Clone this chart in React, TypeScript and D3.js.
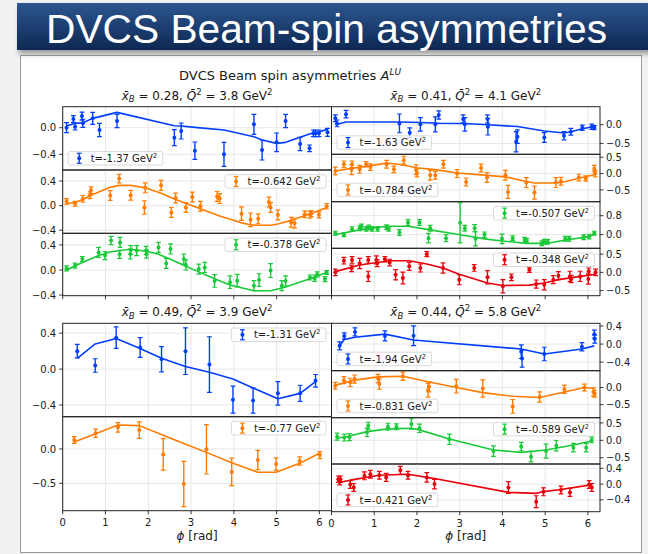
import React, { useEffect, useRef } from 'react';
import * as d3 from 'd3';

const W = 648;
const H = 554;
const FONT = "'DejaVu Sans', 'Liberation Sans', sans-serif";
const INK = '#1a1a1a';

const BLUE = '#023eff';
const ORANGE = '#ff7c00';
const GREEN = '#1ac938';
const RED = '#e8000b';

const bannerTitle = 'DVCS Beam-spin asymmetries';
const chartTitle = 'DVCS Beam spin asymmetries ';
const xBins = ['0.28', '0.41', '0.49', '0.44'];
const q2Bins = ['3.8', '4.1', '3.9', '5.8'];
const xTicks = [0, 1, 2, 3, 4, 5, 6];

// ---- top-left bin (xB=0.28) : [phi, A, err]
const tl1Pts = [[0.09,0.0,0.075],[0.25,0.13,0.05],[0.29,0.015,0.05],[0.45,0.175,0.06],[0.47,0.065,0.06],[0.70,0.14,0.09],[0.86,-0.035,0.1],[1.27,0.10,0.1],[2.61,-0.15,0.12],[2.77,-0.05,0.12],[3.09,-0.345,0.13],[3.77,-0.40,0.18],[4.47,0.05,0.15],[4.66,-0.335,0.15],[5.00,-0.22,0.14],[5.21,0.10,0.10],[5.55,-0.245,0.10],[5.77,-0.31,0.05],[5.86,-0.085,0.05],[5.91,-0.085,0.05],[5.99,-0.085,0.05],[6.19,-0.07,0.06]];
const tl1Fit = [[0.09,0.025],[0.29,0.065],[0.47,0.075],[0.70,0.14],[1.27,0.23],[2.61,0.03],[2.77,0.025],[3.09,0.005],[3.77,-0.035],[4.47,-0.135],[4.66,-0.185],[5.00,-0.235],[5.21,-0.22],[5.55,-0.145],[5.77,-0.095],[5.99,-0.06],[6.19,-0.025]];
const tl2Pts = [[0.09,0.07,0.045],[0.29,0.03,0.04],[0.47,0.11,0.055],[0.64,0.17,0.055],[0.66,0.25,0.055],[1.11,0.165,0.08],[1.32,0.44,0.07],[1.59,0.17,0.08],[1.91,-0.03,0.11],[1.93,0.29,0.08],[2.30,0.33,0.08],[2.54,-0.11,0.08],[2.64,0.125,0.08],[2.88,-0.03,0.08],[3.03,0.14,0.08],[3.22,-0.01,0.08],[3.61,0.15,0.08],[3.67,0.115,0.08],[4.18,-0.13,0.11],[4.39,-0.23,0.11],[4.57,-0.215,0.08],[4.82,0.06,0.08],[4.86,-0.03,0.08],[5.03,-0.15,0.08],[5.34,-0.27,0.08],[5.42,-0.285,0.08],[5.66,-0.14,0.055],[5.78,-0.15,0.055],[5.81,-0.13,0.05],[5.99,-0.15,0.05],[6.17,-0.01,0.045]];
const tl2Fit = [[0.09,0.03],[0.29,0.05],[0.47,0.1],[0.66,0.17],[1.11,0.3],[1.32,0.33],[1.59,0.33],[1.93,0.29],[2.30,0.2],[2.64,0.1],[3.03,0.0],[3.22,-0.05],[3.67,-0.17],[4.18,-0.28],[4.39,-0.31],[4.57,-0.32],[4.86,-0.32],[5.03,-0.3],[5.34,-0.24],[5.66,-0.16],[5.99,-0.08],[6.17,-0.03]];
const tl3Pts = [[0.09,0.025,0.04],[0.29,0.07,0.04],[0.46,0.175,0.04],[0.84,0.28,0.08],[0.99,0.23,0.065],[1.13,0.47,0.065],[1.33,0.25,0.065],[1.34,0.44,0.08],[1.58,0.255,0.08],[1.59,0.32,0.07],[1.73,0.31,0.08],[1.95,0.31,0.065],[1.96,0.255,0.065],[2.24,0.36,0.08],[2.42,0.105,0.08],[2.52,0.335,0.08],[2.83,0.175,0.08],[2.88,0.08,0.08],[3.18,0.015,0.08],[3.32,0.04,0.08],[3.55,-0.175,0.1],[3.91,-0.195,0.1],[4.08,-0.17,0.1],[4.47,-0.25,0.08],[4.59,-0.16,0.1],[4.86,-0.01,0.11],[5.12,-0.25,0.08],[5.21,-0.175,0.08],[5.78,-0.12,0.04],[5.89,-0.13,0.05],[5.95,-0.07,0.04],[6.13,-0.145,0.04],[6.17,-0.04,0.03]];
const tl3Fit = [[0.09,0.0],[0.46,0.12],[0.84,0.23],[1.13,0.29],[1.58,0.33],[1.95,0.3],[2.24,0.25],[2.52,0.17],[2.88,0.06],[3.18,-0.03],[3.55,-0.14],[3.91,-0.24],[4.47,-0.33],[4.86,-0.33],[5.21,-0.27],[5.78,-0.14],[6.17,-0.04]];

// ---- top-right bin (xB=0.41)
const tr1Pts = [[0.09,0.17,0.09],[0.13,0.035,0.09],[0.34,0.28,0.1],[1.59,0.035,0.25],[1.83,-0.215,0.13],[2.08,0.01,0.18],[2.43,0.01,0.2],[2.51,0.26,0.11],[3.08,0.15,0.11],[3.12,0.01,0.18],[3.65,0.15,0.11],[3.66,-0.055,0.22],[4.32,-0.455,0.27],[4.35,-0.32,0.18],[4.98,-0.34,0.13],[5.44,-0.295,0.11],[5.60,-0.19,0.09],[5.87,-0.08,0.07],[6.09,-0.055,0.07],[6.15,-0.08,0.055]];
const tr1Fit = [[0.09,0.0],[0.34,0.07],[1.59,0.07],[2.08,0.06],[2.51,0.04],[3.12,0.03],[3.66,0.0],[4.35,-0.05],[4.98,-0.17],[5.44,-0.22],[5.60,-0.19],[5.87,-0.11],[6.15,-0.05]];
const tr2Pts = [[0.09,0.08,0.12],[0.29,0.285,0.1],[0.47,0.12,0.15],[0.48,0.285,0.1],[0.66,0.13,0.12],[0.81,0.285,0.08],[0.91,0.2,0.1],[1.29,0.285,0.12],[1.46,0.13,0.1],[1.69,0.41,0.12],[1.98,0.12,0.15],[2.00,0.02,0.12],[2.31,-0.05,0.15],[2.43,-0.05,0.12],[2.62,0.285,0.12],[2.94,0.0,0.12],[3.15,-0.255,0.12],[3.50,0.17,0.12],[3.64,-0.12,0.15],[4.07,-0.05,0.15],[4.13,-0.56,0.2],[4.56,-0.275,0.15],[4.75,-0.58,0.2],[5.25,-0.275,0.15],[5.37,-0.235,0.12],[5.79,-0.12,0.1],[5.95,-0.15,0.08],[6.15,0.15,0.1],[6.17,0.0,0.1]];
const tr2Fit = [[0.09,0.08],[0.47,0.16],[0.81,0.22],[1.29,0.32],[1.46,0.3],[1.69,0.26],[1.98,0.18],[2.43,0.12],[2.94,0.02],[3.50,-0.04],[4.07,-0.1],[4.56,-0.24],[4.75,-0.29],[5.25,-0.29],[5.37,-0.27],[5.79,-0.14],[6.17,-0.03]];
const tr3Pts = [[0.09,0.06,0.08],[0.29,-0.01,0.08],[0.48,0.23,0.1],[0.66,0.27,0.1],[0.70,0.34,0.1],[0.81,0.24,0.1],[0.87,0.3,0.1],[0.95,0.24,0.1],[1.08,0.24,0.1],[1.29,0.31,0.1],[1.34,0.24,0.1],[1.59,0.09,0.12],[1.79,0.51,0.12],[2.06,0.51,0.12],[2.27,-0.15,0.2],[2.31,0.27,0.12],[2.68,-0.15,0.15],[3.01,0.5,0.85],[3.12,0.27,0.12],[3.35,0.27,0.15],[3.37,-0.18,0.3],[3.58,-0.01,0.12],[3.99,-0.18,0.2],[4.24,-0.15,0.1],[4.52,-0.22,0.1],[4.57,-0.27,0.1],[4.92,-0.37,0.1],[4.98,-0.3,0.1],[5.06,-0.3,0.1],[5.47,-0.18,0.1],[5.56,-0.18,0.1],[5.90,-0.11,0.1],[6.03,-0.085,0.1],[6.15,0.06,0.08]];
const tr3Fit = [[0.09,0.0],[0.66,0.2],[1.29,0.35],[1.79,0.35],[2.31,0.2],[3.01,-0.01],[3.58,-0.18],[3.99,-0.27],[4.57,-0.37],[5.06,-0.37],[5.47,-0.23],[6.03,-0.085],[6.15,0.03]];
const tr4Pts = [[0.09,0.0,0.09],[0.29,0.32,0.09],[0.47,0.11,0.09],[0.48,0.34,0.09],[0.66,0.245,0.14],[0.86,0.34,0.09],[0.86,-0.11,0.14],[1.05,0.34,0.11],[1.07,0.25,0.09],[1.25,0.36,0.07],[1.36,0.27,0.09],[1.50,-0.065,0.14],[1.67,-0.155,0.16],[1.82,0.165,0.11],[2.08,0.12,0.11],[2.23,0.5,0.07],[2.61,0.12,0.14],[2.99,-0.2,0.14],[3.34,0.12,0.09],[3.65,-0.135,0.18],[4.01,-0.38,0.18],[4.21,-0.135,0.09],[4.63,0.07,0.07],[4.79,-0.32,0.11],[4.98,-0.34,0.14],[5.19,-0.2,0.11],[5.31,-0.09,0.11],[5.58,-0.11,0.14],[5.61,-0.18,0.1],[5.82,-0.11,0.14],[6.01,-0.18,0.14],[6.02,0.03,0.09],[6.18,0.0,0.09]];
const tr4Fit = [[0.09,0.02],[0.66,0.2],[1.36,0.32],[1.82,0.32],[2.23,0.23],[2.61,0.12],[2.99,-0.05],[3.65,-0.29],[4.01,-0.36],[4.63,-0.35],[4.98,-0.29],[5.31,-0.2],[5.82,-0.11],[6.18,-0.05]];

// ---- bottom-left bin (xB=0.49)
const bl1Pts = [[0.34,0.2,0.075],[0.76,0.04,0.075],[1.25,0.35,0.12],[1.81,0.24,0.11],[2.31,0.11,0.14],[2.87,0.2,0.26],[3.43,0.05,0.31],[3.98,-0.34,0.15],[4.45,-0.35,0.14],[5.03,-0.27,0.13],[5.55,-0.27,0.09],[5.91,-0.13,0.07]];
const bl1Fit = [[0.34,0.12],[0.76,0.28],[1.25,0.34],[1.81,0.23],[2.31,0.12],[2.87,0.03],[3.43,-0.035],[3.98,-0.11],[4.45,-0.21],[5.03,-0.33],[5.55,-0.27],[5.91,-0.14]];
const bl2Pts = [[0.27,0.13,0.05],[0.77,0.23,0.06],[1.29,0.315,0.07],[1.79,0.275,0.12],[2.35,-0.08,0.23],[2.83,-0.51,0.33],[3.36,-0.005,0.36],[3.95,-0.335,0.2],[4.56,-0.16,0.14],[4.99,-0.22,0.09],[5.54,-0.175,0.06],[6.01,-0.09,0.05]];
const bl2Fit = [[0.27,0.1],[0.77,0.22],[1.29,0.35],[1.79,0.34],[2.35,0.2],[2.83,0.08],[3.36,-0.05],[3.95,-0.2],[4.56,-0.34],[4.99,-0.34],[5.54,-0.21],[6.01,-0.06]];

// ---- bottom-right bin (xB=0.44)
const br1Pts = [[0.19,-0.04,0.09],[0.30,0.18,0.07],[0.55,0.27,0.09],[1.25,0.18,0.11],[1.92,0.185,0.22],[4.44,-0.17,0.15],[4.46,-0.32,0.19],[4.98,-0.22,0.15],[5.86,-0.06,0.09],[6.15,0.22,0.09],[6.16,0.11,0.09]];
const br1Fit = [[0.19,-0.04],[0.30,0.1],[0.55,0.15],[1.25,0.22],[1.92,0.09],[4.44,-0.11],[4.98,-0.22],[5.86,-0.11],[6.15,-0.04]];
const br2Pts = [[0.09,0.05,0.1],[0.29,0.215,0.1],[0.44,0.15,0.12],[0.54,0.245,0.12],[1.09,0.265,0.12],[1.12,0.1,0.15],[1.67,0.33,0.12],[2.26,-0.08,0.2],[2.28,0.02,0.15],[2.92,0.04,0.2],[3.54,-0.03,0.25],[4.24,-0.55,0.2],[4.87,-0.275,0.15],[5.45,-0.05,0.12],[5.92,0.0,0.1],[6.13,-0.13,0.12],[6.16,-0.18,0.1]];
const br2Fit = [[0.09,0.07],[0.54,0.215],[1.09,0.31],[1.67,0.33],[2.26,0.17],[2.92,0.0],[3.54,-0.15],[4.24,-0.255],[4.87,-0.29],[5.45,-0.13],[5.92,0.0],[6.16,-0.03]];
const br3Pts = [[0.13,0.105,0.1],[0.30,0.08,0.1],[0.42,0.09,0.1],[0.83,0.23,0.12],[0.86,0.42,0.1],[1.32,0.39,0.1],[1.52,0.39,0.08],[1.87,0.47,0.15],[2.06,0.345,0.12],[2.76,0.03,0.15],[3.79,-0.31,0.15],[4.44,-0.18,0.12],[4.67,-0.47,0.15],[5.02,-0.31,0.2],[5.26,-0.155,0.15],[5.66,-0.21,0.12],[5.96,-0.21,0.12],[6.09,0.01,0.08]];
const br3Fit = [[0.13,0.06],[0.42,0.125],[0.83,0.25],[1.32,0.33],[1.87,0.345],[2.06,0.3],[2.76,0.04],[3.79,-0.28],[4.44,-0.345],[5.02,-0.28],[5.66,-0.135],[6.09,-0.02]];
const br4Pts = [[0.16,0.125,0.08],[0.19,0.06,0.08],[0.21,0.125,0.08],[0.44,-0.01,0.1],[0.52,-0.085,0.1],[0.77,0.21,0.1],[0.91,0.25,0.1],[1.12,0.225,0.1],[1.28,0.17,0.1],[1.61,0.35,0.1],[1.79,0.225,0.1],[2.23,0.17,0.12],[2.41,0.0,0.12],[4.14,-0.085,0.15],[4.79,-0.445,0.15],[4.96,-0.195,0.1],[5.37,-0.15,0.1],[5.58,-0.21,0.1],[6.03,-0.01,0.1],[6.09,-0.085,0.1]];
const br4Fit = [[0.16,0.04],[0.44,0.1],[1.12,0.225],[1.79,0.25],[2.41,0.14],[4.14,-0.21],[4.79,-0.235],[4.96,-0.19],[5.37,-0.135],[6.03,-0.025],[6.09,-0.04]];

const tLabels = {
  tl: ['-1.37', '-0.642', '-0.378'],
  tr: ['-1.63', '-0.784', '-0.507', '-0.348'],
  bl: ['-1.31', '-0.77'],
  br: ['-1.94', '-0.831', '-0.589', '-0.421'],
};

type Panel = {
  pts: number[][]; fit: number[][]; color: string; t: string; loc: 'ur' | 'll';
  top: number; bottom: number; dom: [number, number]; step: number;
};
type Group = { bin: number; x0: number; x1: number; side: 'left' | 'right'; xLabels: boolean; panels: Panel[] };

const XL0 = 62.7, XMID = 331.5, XR1 = 600;

const groups: Group[] = [
  { bin: 0, x0: XL0, x1: XMID, side: 'left', xLabels: false, panels: [
    { pts: tl1Pts, fit: tl1Fit, color: BLUE, t: tLabels.tl[0], loc: 'll', top: 106.7, bottom: 170, dom: [-0.635, 0.315], step: 0.4 },
    { pts: tl2Pts, fit: tl2Fit, color: ORANGE, t: tLabels.tl[1], loc: 'ur', top: 170, bottom: 233.3, dom: [-0.45, 0.58], step: 0.4 },
    { pts: tl3Pts, fit: tl3Fit, color: GREEN, t: tLabels.tl[2], loc: 'ur', top: 233.3, bottom: 295.7, dom: [-0.41, 0.585], step: 0.4 },
  ] },
  { bin: 1, x0: XMID, x1: XR1, side: 'right', xLabels: false, panels: [
    { pts: tr1Pts, fit: tr1Fit, color: BLUE, t: tLabels.tr[0], loc: 'll', top: 106.7, bottom: 154.3, dom: [-0.79, 0.48], step: 0.5 },
    { pts: tr2Pts, fit: tr2Fit, color: ORANGE, t: tLabels.tr[1], loc: 'll', top: 154.3, bottom: 201.7, dom: [-0.86, 0.59], step: 0.5 },
    { pts: tr3Pts, fit: tr3Fit, color: GREEN, t: tLabels.tr[2], loc: 'ur', top: 201.7, bottom: 248.3, dom: [-0.58, 1.39], step: 0.8 },
    { pts: tr4Pts, fit: tr4Fit, color: RED, t: tLabels.tr[3], loc: 'ur', top: 248.3, bottom: 295.7, dom: [-0.64, 0.66], step: 0.5 },
  ] },
  { bin: 2, x0: XL0, x1: XMID, side: 'left', xLabels: true, panels: [
    { pts: bl1Pts, fit: bl1Fit, color: BLUE, t: tLabels.bl[0], loc: 'ur', top: 323.3, bottom: 416.7, dom: [-0.53, 0.51], step: 0.4 },
    { pts: bl2Pts, fit: bl2Fit, color: ORANGE, t: tLabels.bl[1], loc: 'ur', top: 416.7, bottom: 510.7, dom: [-0.9, 0.47], step: 0.5 },
  ] },
  { bin: 3, x0: XMID, x1: XR1, side: 'right', xLabels: true, panels: [
    { pts: br1Pts, fit: br1Fit, color: BLUE, t: tLabels.br[0], loc: 'll', top: 323.3, bottom: 370.7, dom: [-0.59, 0.46], step: 0.4 },
    { pts: br2Pts, fit: br2Fit, color: ORANGE, t: tLabels.br[1], loc: 'll', top: 370.7, bottom: 417.7, dom: [-0.88, 0.49], step: 0.5 },
    { pts: br3Pts, fit: br3Fit, color: GREEN, t: tLabels.br[2], loc: 'ur', top: 417.7, bottom: 464, dom: [-0.68, 0.65], step: 0.5 },
    { pts: br4Pts, fit: br4Fit, color: RED, t: tLabels.br[3], loc: 'll', top: 464, bottom: 511.7, dom: [-0.7, 0.51], step: 0.4 },
  ] },
];

function draw(svgEl: SVGSVGElement) {
  const svg = d3.select(svgEl);
  svg.selectAll('*').remove();
  const defs = svg.append('defs');

  // slide background
  svg.append('rect').attr('width', W).attr('height', H).attr('fill', '#f1f1f1');

  const bg = defs.append('linearGradient').attr('id', 'bannerGrad').attr('x1', 0).attr('y1', 0).attr('x2', 0).attr('y2', 1);
  bg.append('stop').attr('offset', '0%').attr('stop-color', '#2c5690');
  bg.append('stop').attr('offset', '100%').attr('stop-color', '#0d2852');
  const blur = defs.append('filter').attr('id', 'shadowBlur').attr('x', '-5%').attr('y', '-30%').attr('width', '110%').attr('height', '160%');
  blur.append('feGaussianBlur').attr('stdDeviation', 2.5);

  // chart sheet
  svg.append('rect').attr('x', 20.5).attr('y', 55.5).attr('width', 621).attr('height', 497)
    .attr('fill', '#ffffff').attr('stroke', '#9a9a9a').attr('stroke-width', 1);

  // banner
  svg.append('rect').attr('x', 19).attr('y', 7).attr('width', 640).attr('height', 47)
    .attr('fill', '#555').attr('opacity', 0.55).attr('filter', 'url(#shadowBlur)');
  svg.append('rect').attr('x', 17).attr('y', 3).attr('width', 640).attr('height', 47).attr('fill', 'url(#bannerGrad)');
  svg.append('text').attr('x', 46).attr('y', 43).attr('fill', '#ffffff')
    .attr('font-family', "'Liberation Sans', Arial, sans-serif").attr('font-size', 41)
    .attr('textLength', 561).attr('lengthAdjust', 'spacingAndGlyphs').text(bannerTitle);

  // suptitle
  const st = svg.append('text').attr('x', 290).attr('y', 80).attr('text-anchor', 'middle')
    .attr('font-family', FONT).attr('font-size', 13).attr('fill', INK);
  st.append('tspan').text(chartTitle);
  st.append('tspan').attr('font-style', 'italic').text('A');
  st.append('tspan').attr('font-style', 'italic').attr('font-size', 9).attr('dy', -5).text('LU');

  const fmt = d3.format('.1f');

  groups.forEach((g, gi) => {
    const x = d3.scaleLinear().domain([0, 2 * Math.PI]).range([g.x0, g.x1]);
    const cx = (g.x0 + g.x1) / 2;
    const gTop = g.panels[0].top;
    const gBottom = g.panels[g.panels.length - 1].bottom;

    // subtitle
    const sub = svg.append('text').attr('x', cx).attr('y', gTop - 7).attr('text-anchor', 'middle')
      .attr('font-family', FONT).attr('font-size', 12).attr('fill', INK);
    sub.append('tspan').attr('font-style', 'italic').text('x\u0304');
    sub.append('tspan').attr('font-style', 'italic').attr('font-size', 8.5).attr('dy', 2.5).text('B');
    sub.append('tspan').attr('dy', -2.5).text(` = ${xBins[g.bin]}, `);
    sub.append('tspan').attr('font-style', 'italic').text('Q\u0304');
    sub.append('tspan').attr('font-size', 8.5).attr('dy', -5).text('2');
    sub.append('tspan').attr('dy', 5).text(` = ${q2Bins[g.bin]} GeV`);
    sub.append('tspan').attr('font-size', 8.5).attr('dy', -5).text('2');

    g.panels.forEach((p, pi) => {
      const y = d3.scaleLinear().domain(p.dom).range([p.bottom, p.top]);
      const clipId = `clip-${gi}-${pi}`;
      defs.append('clipPath').attr('id', clipId).append('rect')
        .attr('x', g.x0).attr('y', p.top).attr('width', g.x1 - g.x0).attr('height', p.bottom - p.top);

      const pg = svg.append('g');
      const kMin = Math.ceil(p.dom[0] / p.step - 1e-9);
      const kMax = Math.floor(p.dom[1] / p.step + 1e-9);
      const yTicks = d3.range(kMin, kMax + 1).map(k => +(k * p.step).toFixed(3) + 0);

      // grid
      xTicks.forEach(v => {
        pg.append('line').attr('x1', x(v)).attr('x2', x(v)).attr('y1', p.top).attr('y2', p.bottom)
          .attr('stroke', '#e2e2e2').attr('stroke-width', 0.8);
      });
      yTicks.forEach(v => {
        pg.append('line').attr('x1', g.x0).attr('x2', g.x1).attr('y1', y(v)).attr('y2', y(v))
          .attr('stroke', '#e2e2e2').attr('stroke-width', 0.8);
      });

      const dg = pg.append('g').attr('clip-path', `url(#${clipId})`);
      const line = d3.line<number[]>().x(d => x(d[0])).y(d => y(d[1]));
      dg.append('path').attr('d', line(p.fit) as string).attr('fill', 'none')
        .attr('stroke', p.color).attr('stroke-width', 1.6).attr('stroke-linejoin', 'round');

      p.pts.forEach(d => {
        const px = x(d[0]);
        const y1 = y(d[1] - d[2]);
        const y2 = y(d[1] + d[2]);
        dg.append('line').attr('x1', px).attr('x2', px).attr('y1', y1).attr('y2', y2)
          .attr('stroke', p.color).attr('stroke-width', 1.4);
        [y1, y2].forEach(yy => {
          dg.append('line').attr('x1', px - 2.4).attr('x2', px + 2.4).attr('y1', yy).attr('y2', yy)
            .attr('stroke', p.color).attr('stroke-width', 1.2);
        });
        dg.append('circle').attr('cx', px).attr('cy', y(d[1])).attr('r', 2).attr('fill', p.color);
      });

      // frame
      pg.append('rect').attr('x', g.x0).attr('y', p.top).attr('width', g.x1 - g.x0).attr('height', p.bottom - p.top)
        .attr('fill', 'none').attr('stroke', '#222').attr('stroke-width', 1);

      // y ticks
      yTicks.forEach(v => {
        const yy = y(v);
        const label = fmt(v).replace('-', '\u2212');
        if (g.side === 'left') {
          pg.append('line').attr('x1', g.x0 - 3.5).attr('x2', g.x0).attr('y1', yy).attr('y2', yy).attr('stroke', '#222').attr('stroke-width', 0.9);
          pg.append('text').attr('x', g.x0 - 6.5).attr('y', yy).attr('dy', '0.36em').attr('text-anchor', 'end')
            .attr('font-family', FONT).attr('font-size', 10).attr('fill', INK).text(label);
        } else {
          pg.append('line').attr('x1', g.x1).attr('x2', g.x1 + 3.5).attr('y1', yy).attr('y2', yy).attr('stroke', '#222').attr('stroke-width', 0.9);
          pg.append('text').attr('x', g.x1 + 6).attr('y', yy).attr('dy', '0.36em').attr('text-anchor', 'start')
            .attr('font-family', FONT).attr('font-size', 10).attr('fill', INK).text(label);
        }
      });

      // legend
      const lg = svg.append('g');
      const bh = 13.5;
      const txt = lg.append('text').attr('font-family', FONT).attr('font-size', 10).attr('fill', INK);
      txt.append('tspan').text(`t=${p.t} GeV`);
      txt.append('tspan').attr('font-size', 7).attr('dy', -4).text('2');
      const tw = (txt.node() as SVGTextElement).getComputedTextLength();
      const bw = 22.5 + tw + 5.5;
      const bx = p.loc === 'ur' ? g.x1 - 5.5 - bw : g.x0 + 5.5;
      const by = p.loc === 'ur' ? p.top + 4.7 : p.bottom - 5 - bh;
      lg.insert('rect', 'text').attr('x', bx).attr('y', by).attr('width', bw).attr('height', bh)
        .attr('rx', 2).attr('fill', '#ffffff').attr('fill-opacity', 0.8).attr('stroke', '#d0d0d0').attr('stroke-width', 0.8);
      txt.attr('x', bx + 22.5).attr('y', by + bh / 2 + 3.6);
      const hx = bx + 11, hy = by + bh / 2;
      lg.append('line').attr('x1', hx).attr('x2', hx).attr('y1', hy - 5).attr('y2', hy + 5).attr('stroke', p.color).attr('stroke-width', 1.4);
      [hy - 5, hy + 5].forEach(yy => lg.append('line').attr('x1', hx - 2.4).attr('x2', hx + 2.4).attr('y1', yy).attr('y2', yy).attr('stroke', p.color).attr('stroke-width', 1.2));
      lg.append('circle').attr('cx', hx).attr('cy', hy).attr('r', 2).attr('fill', p.color);
    });

    // x ticks at group bottom
    xTicks.forEach(v => {
      svg.append('line').attr('x1', x(v)).attr('x2', x(v)).attr('y1', gBottom).attr('y2', gBottom + 3.5)
        .attr('stroke', '#222').attr('stroke-width', 0.9);
      if (g.xLabels) {
        svg.append('text').attr('x', x(v)).attr('y', gBottom + 15).attr('text-anchor', 'middle')
          .attr('font-family', FONT).attr('font-size', 10).attr('fill', INK).text(String(v));
      }
    });
    if (g.xLabels) {
      const xl = svg.append('text').attr('x', cx).attr('y', 540).attr('text-anchor', 'middle')
        .attr('font-family', FONT).attr('font-size', 12).attr('fill', INK);
      xl.append('tspan').attr('font-style', 'italic').text('\u03d5');
      xl.append('tspan').text(' [rad]');
    }
  });
}

export default function App() {
  const ref = useRef<SVGSVGElement>(null);
  useEffect(() => {
    if (ref.current) draw(ref.current);
  }, []);
  return (
    <svg ref={ref} width={W} height={H} viewBox={`0 0 ${W} ${H}`}
      style={{ position: 'absolute', left: 0, top: 0, display: 'block' }} />
  );
}
